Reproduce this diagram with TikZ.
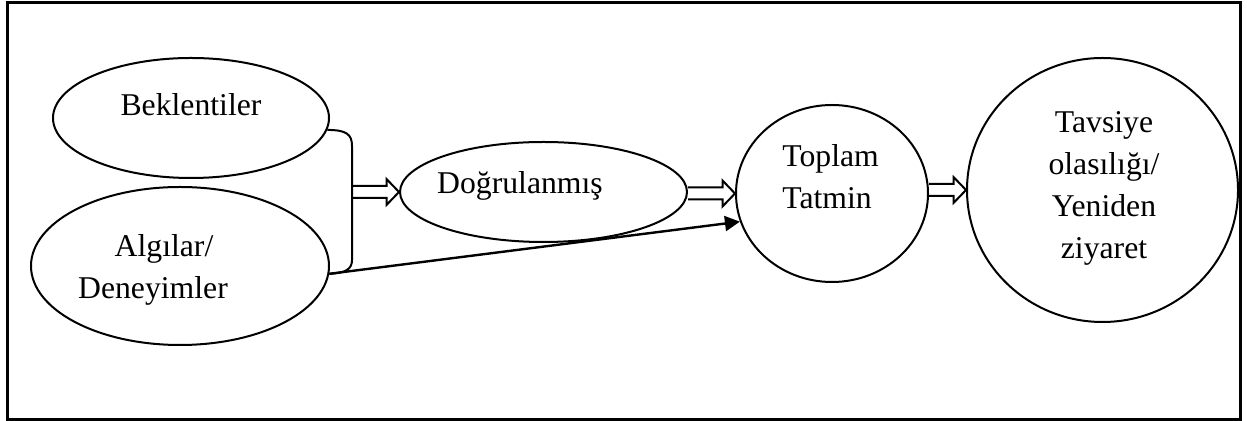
\documentclass[tikz,border=0pt]{standalone}
\usepackage{fontspec}
\setmainfont{Liberation Serif}
\usetikzlibrary{shapes.geometric,arrows.meta,calc}
\begin{document}
\begin{tikzpicture}[x=0.5pt,y=-0.5pt,
  bubble/.style={ellipse,draw,line width=1pt,inner sep=0pt},
  lbl/.style={inner sep=0pt,font=\fontsize{15.85pt}{21pt}\selectfont},
  stroke/.style={line width=1pt},
  blockarrow/.style={line width=1pt,line join=miter,
    to path={let \p1=(\tikztostart), \p2=(\tikztotarget) in
      (\x1,\y2+3pt) -- (\x2-6.25pt,\y2+3pt) -- (\x2-6.25pt,\y2+6.5pt)
      -- (\x2,\y2) -- (\x2-6.25pt,\y2-6.5pt) -- (\x2-6.25pt,\y2-3pt)
      -- (\x1,\y2-3pt)}}]
\useasboundingbox (0,0) rectangle (1247,421);
% outer frame
\draw[line width=1.5pt] (7,2.5) rectangle (1240,419.5);

% ellipses and circles
\node[bubble,minimum width=138pt,minimum height=60pt] (bek) at (191,118) {};
\node[bubble,minimum width=149pt,minimum height=79pt] (alg) at (180,266) {};
\node[bubble,minimum width=143.5pt,minimum height=50pt] (dog) at (543.5,192) {};
\node[bubble,minimum width=96pt,minimum height=88.5pt] (top) at (832,193.5) {};
\node[bubble,minimum width=135.5pt,minimum height=132pt] (tav) at (1102.5,190) {};

% texts (base anchor sits on the last line)
\node[lbl,anchor=base] (bek-t) at (191,116) {Beklentiler};
\node[lbl,anchor=base,align=center] (alg-t) at (153,299) {\hspace*{11pt}Algılar/\\Deneyimler};
\node[lbl,anchor=base] (dog-t) at (520,194) {Doğrulanmış};
\node[lbl,anchor=base west,align=left] (top-t) at (782,209) {Toplam\\Tatmin};
\node[lbl,anchor=base,align=center] (tav-t) at (1104,259) {Tavsiye\\olasılığı/\\Yeniden\\ziyaret};

% bracket joining the two inputs
\coordinate (join) at (352,191.5);
\draw[stroke] (bek.-5) .. controls (346,130) and (352,134) .. (352,146)
  -- (352,260) .. controls (352,269) and (346,273) .. (alg.-3);

% block arrows
\draw[blockarrow] (join) to (dog.west);
\draw[blockarrow] (dog.east) to (top.west);
\draw[blockarrow] (top.east) to (tav.west);

% direct link
\draw[line width=1.2pt,-{Triangle[length=7.5pt,width=7.5pt]}] (alg.-3) -- (top.197);
\end{tikzpicture}
\end{document}
